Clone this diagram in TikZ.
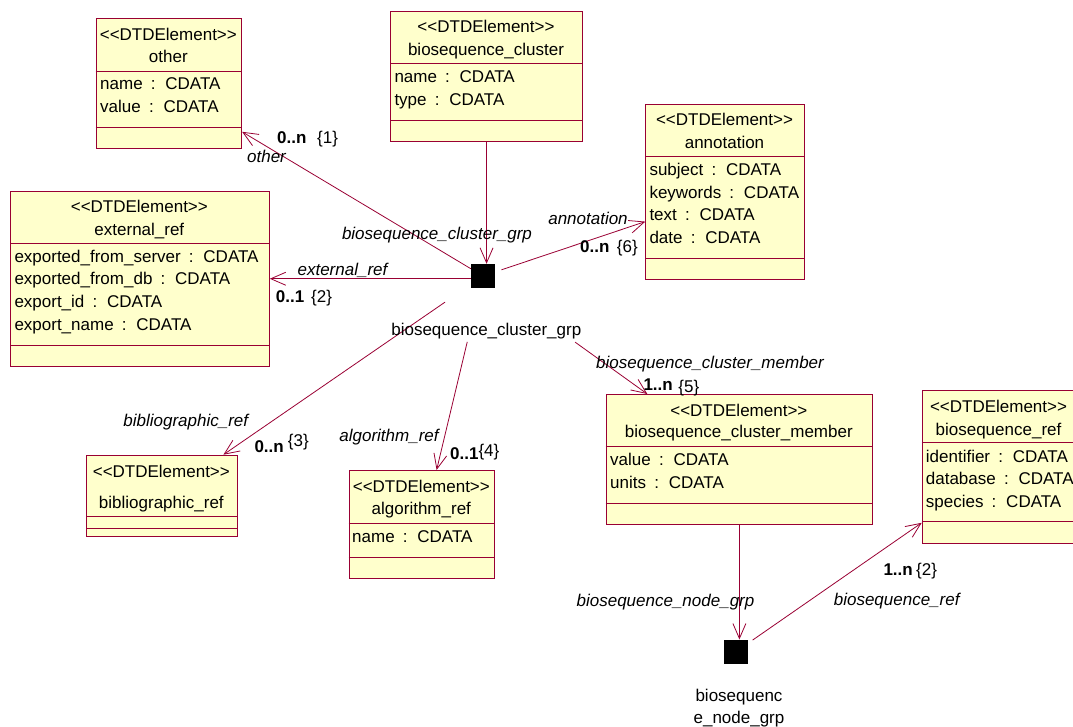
\documentclass[tikz,border=0pt]{standalone}
\usepackage{fontspec}
\setmainfont{Liberation Sans}
\usetikzlibrary{arrows.meta,calc}

\definecolor{umlfill}{RGB}{255,255,204}
\definecolor{umlline}{RGB}{153,0,51}

% stereotype text; the kerns keep << and >> from turning into guillemets
\newcommand\dtd{<\kern0pt<DTDElement>\kern0pt>}
% slightly wider word spaces for the attribute lines
\newcommand\widesp{\spaceskip 8.2pt\relax}

\tikzset{
  classbox/.style={draw=umlline, fill=umlfill, line width=1.1pt, anchor=north west, inner sep=0pt},
  sepline/.style={draw=umlline, line width=0.8pt},
  txt/.style={font={\fontsize{17}{20}\selectfont\widesp}, inner sep=0pt, text height=12.2pt, text depth=0pt},
  attr/.style={txt, anchor=west},
  role/.style={txt, font={\fontsize{17}{20}\selectfont\itshape}},
  mult/.style={txt, anchor=west},
  conn/.style={draw=umlline, line width=0.8pt, -{Straight Barb[length=15pt,width=13pt]}},
  grp/.style={fill=black, minimum size=24pt, inner sep=0pt},
}

% class frame: name, left, top, right, bottom, first separator, second separator
\newcommand\classframe[7]{%
  \node[classbox, minimum width={#4-#2}, minimum height={#5-#3}] (#1) at (#2,#3) {};
  \draw[sepline] (#1.west |- 0,#6) -- (#1.east |- 0,#6);
  \draw[sepline] (#1.west |- 0,#7) -- (#1.east |- 0,#7);
}

\begin{document}
\begin{tikzpicture}[x=1pt,y=-1pt]
\useasboundingbox (0,0) rectangle (1073,727);

% ---- class frames
\classframe{other}{95.7}{18.3}{241}{147.7}{71}{127.3}
\classframe{cluster}{390}{10.7}{582}{141}{63.3}{120.7}
\classframe{annotation}{645.3}{104}{803.7}{279.3}{156.7}{258.3}
\classframe{extref}{10}{190.7}{268.7}{365.7}{243.3}{345}
\classframe{bib}{86}{454.7}{236.7}{535.7}{516.7}{528.3}
\classframe{alg}{348.7}{470}{494}{578}{523.3}{557.3}
\classframe{member}{605.7}{394}{872}{524.3}{446.7}{503.3}
\classframe{bioref}{921.7}{390}{1076}{542.7}{442.7}{521.7}

% ---- group markers
\node[grp] (grpA) at (483,276) {};
\node[grp] (grpB) at (735.85,651.7) {};

% ---- class texts
\node[txt] at (168.35,34.3) {\dtd};
\node[txt] at (168.35,56.7) {other};
\node[attr] at (100,83.3) {name : CDATA};
\node[attr] at (100,106.7) {value : CDATA};

\node[txt] at (486,26.7) {\dtd};
\node[txt] at (486,49.3) {biosequence\_cluster};
\node[attr] at (394.3,76) {name : CDATA};
\node[attr] at (394.3,99.3) {type : CDATA};

\node[txt] at (724.5,119.3) {\dtd};
\node[txt] at (724.5,142.3) {annotation};
\node[attr] at (649.3,169) {subject : CDATA};
\node[attr] at (649.3,192.3) {keywords : CDATA};
\node[attr] at (649.3,214) {text : CDATA};
\node[attr] at (649.3,237.3) {date : CDATA};

\node[txt] at (139.35,206.7) {\dtd};
\node[txt] at (139.35,229.3) {external\_ref};
\node[attr] at (14.3,256.7) {exported\_from\_server : CDATA};
\node[attr] at (14.3,278.7) {exported\_from\_db : CDATA};
\node[attr] at (14.3,301.3) {export\_id : CDATA};
\node[attr] at (14.3,324) {export\_name : CDATA};

\node[txt] at (161.35,471.7) {\dtd};
\node[txt] at (161.35,502.7) {bibliographic\_ref};

\node[txt] at (421.35,486) {\dtd};
\node[txt] at (421.35,508.3) {algorithm\_ref};
\node[attr] at (352,536) {name : CDATA};

\node[txt] at (738.85,410) {\dtd};
\node[txt] at (738.85,431.7) {biosequence\_cluster\_member};
\node[attr] at (610,459.3) {value : CDATA};
\node[attr] at (610,482.7) {units : CDATA};

\node[txt] at (998.5,406.7) {\dtd};
\node[txt] at (998.5,429.3) {biosequence\_ref};
\node[attr] at (925.7,456) {identifier : CDATA};
\node[attr] at (925.7,478.3) {database : CDATA};
\node[attr] at (925.7,501.7) {species : CDATA};

% ---- connectors
\draw[conn] (cluster.south) -- (cluster.south |- grpA.north);
\draw[conn] (grpA) -- ($(other.south east)+(0,-17)$);
\draw[conn] (grpA.west |- extref.east) -- (extref.east);
\draw[conn, shorten <=19.4pt] (grpA.center) -- ([yshift=-29.4pt]annotation.west);
\draw[conn, shorten <=46pt] (grpA.center) -- ([xshift=-14.4pt]bib.north east);
\draw[conn, shorten <=67.7pt] (grpA.center) -- ([xshift=14.7pt]alg.north);
\draw[conn, shorten <=113.4pt] (grpA.center) -- ([xshift=41.6pt]member.north west);
\draw[conn] (member.south) -- (member.south |- grpB.north);
\draw[conn, shorten <=20.4pt] (grpB.center) -- ([yshift=21pt]bioref.south west);

% ---- group names
\node[txt] at (486.3,329.3) {biosequence\_cluster\_grp};
\node[txt] at (739,695) {biosequenc};
\node[txt] at (739,717.3) {e\_node\_grp};

% ---- role names
\node[role] at (437,233.3) {biosequence\_cluster\_grp};
\node[role] at (266.5,156.7) {other};
\node[role] at (342.5,269) {external\_ref};
\node[role] at (588,218.3) {annotation};
\node[role] at (185.8,420.7) {bibliographic\_ref};
\node[role] at (389,435) {algorithm\_ref};
\node[role] at (710,362.7) {biosequence\_cluster\_member};
\node[role] at (665.5,600) {biosequence\_node\_grp};
\node[role] at (896.7,599.3) {biosequence\_ref};

% ---- multiplicities
\node[mult] at (277,137.3) {\textbf{0..n}\hspace{10.7pt}\{1\}};
\node[mult] at (275.7,296) {\textbf{0..1}\hspace{6.9pt}\{2\}};
\node[mult] at (580,246.7) {\textbf{0..n}\hspace{7.4pt}\{6\}};
\node[mult] at (254.3,446.7) {\textbf{0..n}\hspace{4.1pt}\raisebox{6.7pt}{\{3\}}};
\node[mult] at (450,453.3) {\textbf{0..1}\raisebox{2.6pt}{\{4\}}};
\node[mult] at (643.3,384) {\textbf{1..n}\hspace{5.7pt}\raisebox{-2.7pt}{\{5\}}};
\node[mult] at (883.3,569) {\textbf{1..n}\hspace{3.4pt}\{2\}};
\end{tikzpicture}
\end{document}
